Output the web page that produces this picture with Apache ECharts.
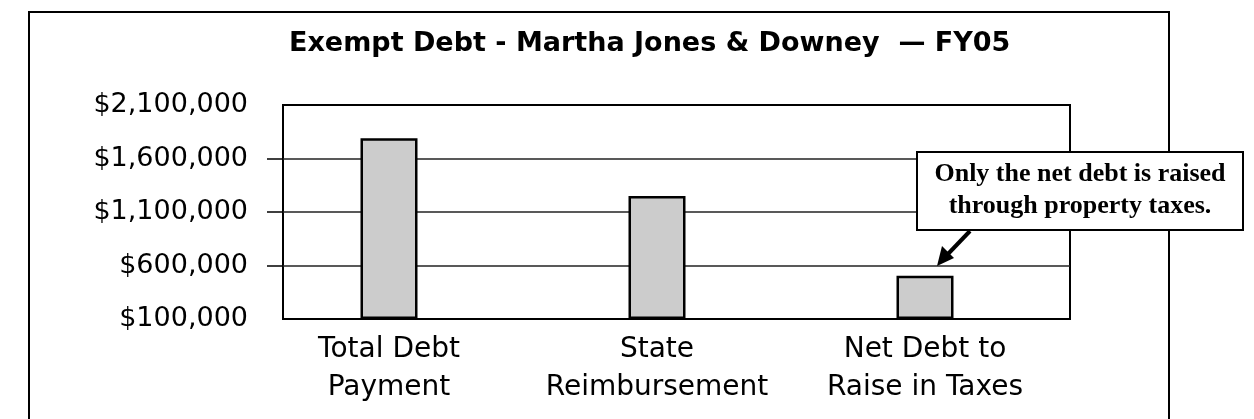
<!DOCTYPE html>
<html>
<head>
<meta charset="utf-8">
<script src="https://cdn.jsdelivr.net/npm/echarts@6/dist/echarts.min.js"></script>
<style>
html,body{margin:0;padding:0;background:#fff;}
#chart{width:1254px;height:419px;}
</style>
</head>
<body>
<div id="chart"></div>
<script>
// ---- data ----
const titleText = 'Exempt Debt - Martha Jones & Downey  \u2014 FY05';
const categories = ['Total Debt\nPayment', 'State\nReimbursement', 'Net Debt to\nRaise in Taxes'];
const values = [1790000, 1250000, 505000];
const yTicks = [100000, 600000, 1100000, 1600000, 2100000];
const noteLines = ['Only the net debt is raised', 'through property taxes.'];

// axis base (bars rise from the lowest tick)
const BASE = yTicks[0];
const STEP = yTicks[1] - yTicks[0];
const TOP = yTicks[yTicks.length - 1] - BASE;
const fmt = v => '$' + Math.round(v + BASE).toLocaleString('en-US');

const chart = echarts.init(document.getElementById('chart'), null, {renderer: 'canvas'});
const GRID_TOP = 105, GRID_H = 214;

chart.setOption({
  backgroundColor: '#fff',
  animation: false,
  title: {
    text: titleText,
    left: 289, top: 30, padding: 0,
    textStyle: {fontFamily: 'DejaVu Sans', fontWeight: 'bold', fontSize: 27, color: '#000'}
  },
  grid: [
    {left: 283, top: GRID_TOP, width: 787, height: GRID_H, show: true,
     borderColor: '#000', borderWidth: 2, backgroundColor: 'transparent'},
    {left: 255, top: GRID_TOP, width: 804, height: GRID_H}
  ],
  xAxis: [
    {type: 'category', gridIndex: 0, data: categories, show: false},
    {type: 'category', gridIndex: 1, data: categories,
     axisLine: {show: false}, axisTick: {show: false},
     axisLabel: {fontFamily: 'DejaVu Sans', fontSize: 28, color: '#000', lineHeight: 38, margin: 12, interval: 0}}
  ],
  yAxis: [
    {type: 'value', gridIndex: 0, min: 0, max: TOP, interval: STEP,
     axisLine: {show: false},
     axisTick: {show: true, inside: false, length: 16, lineStyle: {color: '#000', width: 1.5},
                customValues: yTicks.slice(1, -1).map(v => v - BASE)},
     axisLabel: {formatter: fmt, fontFamily: 'DejaVu Sans', fontSize: 27, color: '#000', margin: 35},
     splitLine: {show: true, lineStyle: {color: '#222', width: 1.5}}},
    {type: 'value', gridIndex: 1, min: 0, max: TOP, interval: STEP, show: false,
     splitLine: {show: false}}
  ],
  series: [{
    type: 'bar',
    xAxisIndex: 1, yAxisIndex: 1,
    data: values.map(v => v - BASE),
    barWidth: 57,
    itemStyle: {color: '#cccccc', borderColor: '#000', borderWidth: 2.5},
    silent: true
  }],
  graphic: [
    {type: 'rect', shape: {x: 29, y: 12, width: 1140, height: 440},
     style: {fill: 'none', stroke: '#000', lineWidth: 2}, z: 1, silent: true},
    {type: 'line', shape: {x1: 970, y1: 231, x2: 947, y2: 255},
     style: {stroke: '#000', lineWidth: 4}, z: 100, silent: true},
    {type: 'polygon', shape: {points: [[937, 266], [954, 258], [942, 246]]},
     style: {fill: '#000'}, z: 100, silent: true},
    {type: 'rect', shape: {x: 917, y: 152, width: 326, height: 78},
     style: {fill: '#fff', stroke: '#000', lineWidth: 2}, z: 100, silent: true},
    {type: 'text', x: 1080, y: 190, z: 101, silent: true,
     style: {text: noteLines.join('\n'), align: 'center', verticalAlign: 'middle',
             font: 'bold 26px "Liberation Serif"', lineHeight: 32, fill: '#000'}}
  ]
});
</script>
</body>
</html>
